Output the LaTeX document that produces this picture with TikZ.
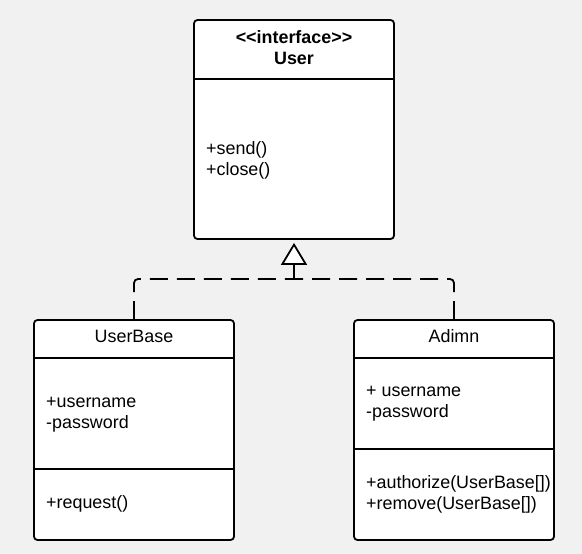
\documentclass[tikz,border=0pt]{standalone}
\usepackage{fontspec}
\setmainfont{Liberation Sans}
\usetikzlibrary{arrows.meta}
\definecolor{bg}{HTML}{F1F1F1}
\tikzset{
  classbox/.style={draw=black, fill=white, line width=1.8pt, rounded corners=3.5pt,
    minimum width=200pt, inner sep=0pt},
  divider/.style={draw=black, line width=1.8pt},
  txt/.style={inner sep=0pt, font=\fontsize{17.9}{21}\selectfont, anchor=base west},
  ttl/.style={inner sep=0pt, font=\fontsize{17.9}{21}\selectfont, anchor=base},
  bttl/.style={inner sep=0pt, font=\fontsize{17.9}{21}\selectfont\bfseries, anchor=base},
  dashline/.style={draw=black, line width=1.8pt, dash pattern=on 18pt off 9pt, rounded corners=4pt},
  realize/.style={draw=black, line width=1.8pt, -{Triangle[open, fill=white, length=22pt, width=26pt]}, shorten >=3pt}
}
\begin{document}
\begin{tikzpicture}[x=1pt, y=-1pt]
\fill[bg] (0,0) rectangle (582,554);
\useasboundingbox (0,0) rectangle (582,554);

% User interface
\node[classbox, minimum height=219pt] (user) at (294,129.5) {};
\draw[divider] (user.west |- 0,79) -- (user.east |- 0,79);
\node[bttl] (userst) at (294,43.3) {{<}{<}interface{>}{>}};
\node[bttl] (usern) at (294,64.3) {User};
\node[txt] (send) at (206,154) {+send()};
\node[txt] (close) at (206,175) {+close()};

% UserBase
\node[classbox, minimum height=220pt] (ub) at (134,430) {};
\draw[divider] (ub.west |- 0,358) -- (ub.east |- 0,358);
\draw[divider] (ub.west |- 0,469) -- (ub.east |- 0,469);
\node[ttl] (ubn) at (134,342.7) {UserBase};
\node[txt] (ubu) at (46,407.7) {+username};
\node[txt] (ubp) at (46,428.7) {-password};
\node[txt] (ubr) at (46,508) {+request()};

% Adimn
\node[classbox, minimum height=220pt] (ad) at (454,430) {};
\draw[divider] (ad.west |- 0,358) -- (ad.east |- 0,358);
\draw[divider] (ad.west |- 0,449) -- (ad.east |- 0,449);
\node[ttl] (adn) at (454,342.7) {Adimn};
\node[txt] (adu) at (366,396.7) {+ username};
\node[txt] (adp) at (366,417.7) {-password};
\node[txt] (ada) at (366,488.3) {+authorize(UserBase[])};
\node[txt] (adr) at (366,509.3) {+remove(UserBase[])};

% realization
\coordinate (junc) at (294,279);
\draw[dashline] (ub.north) |- (junc);
\draw[dashline] (ad.north) |- (junc);
\draw[realize] (junc) -- (user.south);
\end{tikzpicture}
\end{document}
